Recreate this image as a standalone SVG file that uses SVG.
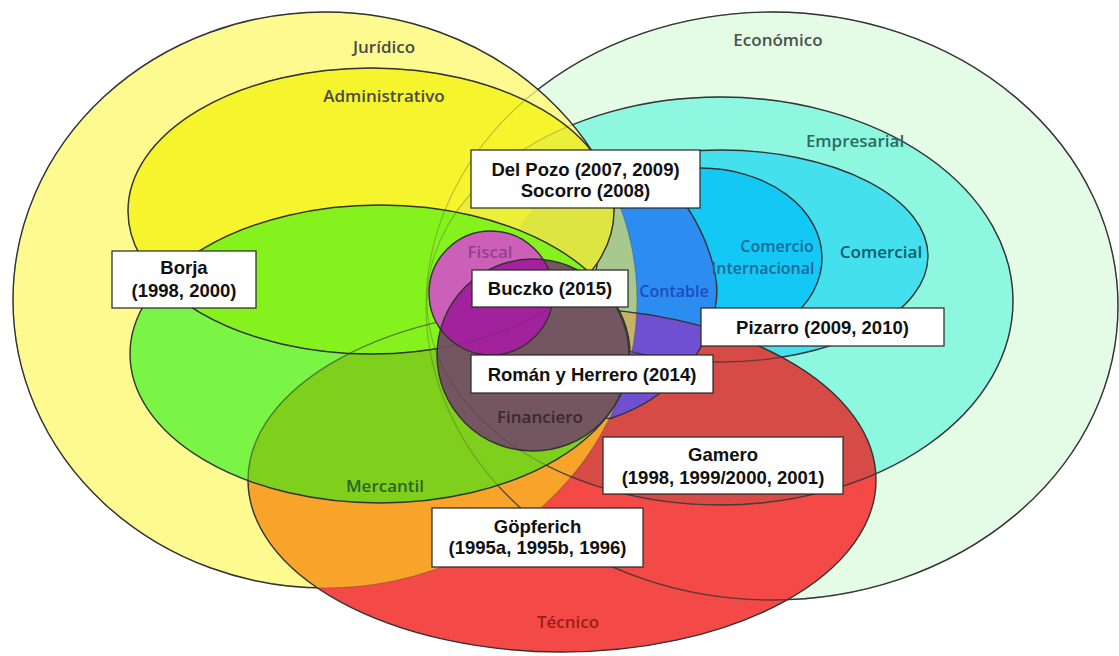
<svg xmlns="http://www.w3.org/2000/svg" xmlns:xlink="http://www.w3.org/1999/xlink" width="1119" height="656" viewBox="0 0 1119 656">
<style>
  .ol{fill:none;stroke:#333;stroke-width:1.4}
  .ghost{fill:none;stroke:#383838;stroke-width:1.1;opacity:0.3}
  .lbl{font-family:"Open Sans","Liberation Sans",sans-serif;font-size:17px;font-weight:600;text-anchor:middle}
  .box rect{fill:#fff;stroke:#262626;stroke-width:1.2}
  .box text{font-family:"Liberation Sans",Arial,sans-serif;font-weight:bold;font-size:18.5px;fill:#111;text-anchor:middle}
</style>
<defs>
  <ellipse id="sJ" cx="325" cy="300" rx="312" ry="288"/>
  <ellipse id="sE" cx="772" cy="306" rx="346" ry="294"/>
  <ellipse id="sA" cx="371" cy="211" rx="243" ry="143"/>
  <ellipse id="sG" cx="380" cy="354" rx="250" ry="149"/>
  <ellipse id="sT" cx="562" cy="480" rx="314" ry="172"/>
  <ellipse id="sM" cx="720" cy="301" rx="293" ry="204"/>
  <ellipse id="sC" cx="720" cy="256" rx="208" ry="106"/>
  <ellipse id="sI" cx="700" cy="258" rx="122" ry="90"/>
  <path id="sK" d="M655,178 C680,184 715,245 717,290 C716,340 680,395 612,418 C595,424 589,380 591,330 C593,262 606,180 655,178 Z"/>
  <circle id="sF" cx="491" cy="293" r="62"/>
  <circle id="sN" cx="533" cy="355" r="96"/>
  <clipPath id="cJ"><use xlink:href="#sJ"/></clipPath>
  <clipPath id="cA"><use xlink:href="#sA"/></clipPath>
  <clipPath id="cG"><use xlink:href="#sG"/></clipPath>
  <clipPath id="cT"><use xlink:href="#sT"/></clipPath>
  <clipPath id="cM"><use xlink:href="#sM"/></clipPath>
  <clipPath id="cC"><use xlink:href="#sC"/></clipPath>
  <clipPath id="cK"><use xlink:href="#sK"/></clipPath>
  <clipPath id="cF"><use xlink:href="#sF"/></clipPath>
</defs>
<rect width="1119" height="656" fill="#fff"/>

<!-- economic side -->
<g id="economico"><use xlink:href="#sE" fill="#e4fbe6"/><use xlink:href="#sE" class="ol"/></g>
<g id="empresarial"><use xlink:href="#sM" fill="#8ef7e0"/><use xlink:href="#sM" class="ol"/></g>
<g id="comercial"><use xlink:href="#sC" fill="#45e0ee"/><use xlink:href="#sC" class="ol"/></g>
<g id="comercio-internacional"><use xlink:href="#sI" fill="#14c8f6"/><use xlink:href="#sI" class="ol"/></g>

<!-- legal side -->
<g id="juridico"><use xlink:href="#sJ" fill="#fdfa8f"/><use xlink:href="#sJ" class="ol"/></g>

<g id="contable">
  <use xlink:href="#sK" fill="#2c8cf0"/>
  <use xlink:href="#sK" clip-path="url(#cJ)" fill="#a8c88e"/>
  <use xlink:href="#sK" class="ol"/>
</g>

<g id="administrativo">
  <use xlink:href="#sA" fill="#f6f42c"/>
  <use xlink:href="#sA" clip-path="url(#cM)" fill="#ebef38"/>
  <use xlink:href="#sA" clip-path="url(#cC)" fill="#dde641"/>
  <use xlink:href="#sA" class="ol"/>
</g>

<g id="tecnico">
  <use xlink:href="#sT" fill="#f44a47"/>
  <use xlink:href="#sT" clip-path="url(#cM)" fill="#d74b46"/>
  <use xlink:href="#sT" clip-path="url(#cJ)" fill="#f8a42a"/>
  <use xlink:href="#sT" clip-path="url(#cK)" fill="#6f50d0"/>
  <g clip-path="url(#cJ)"><use xlink:href="#sT" clip-path="url(#cK)" fill="#c6b264"/></g>
  <use xlink:href="#sT" class="ol"/>
  <g clip-path="url(#cT)">
    <use xlink:href="#sK" class="ol"/>
    <use xlink:href="#sM" class="ol" opacity="0.8"/>
    <use xlink:href="#sE" class="ol" opacity="0.7"/>
    <use xlink:href="#sC" class="ol" opacity="0.7"/>
  </g>
</g>

<g id="mercantil">
  <use xlink:href="#sG" fill="#7af545"/>
  <use xlink:href="#sG" clip-path="url(#cT)" fill="#7ed01d"/>
  <use xlink:href="#sG" clip-path="url(#cA)" fill="#85f21e"/>
  <use xlink:href="#sG" class="ol"/>
  <g clip-path="url(#cG)">
    <use xlink:href="#sA" class="ol"/>
    <use xlink:href="#sT" class="ol" opacity="0.6"/>
  </g>
</g>

<g id="financiero"><use xlink:href="#sN" fill="#745660"/><use xlink:href="#sN" class="ol"/></g>
<g id="fiscal">
  <use xlink:href="#sF" fill="#cc60b8"/>
  <use xlink:href="#sN" clip-path="url(#cF)" fill="#a2229e"/>
  <use xlink:href="#sF" class="ol"/>
  <use xlink:href="#sN" clip-path="url(#cF)" class="ol"/>
</g>

<!-- faint edges seen through the overlapping fields -->
<g id="edges">
  <use xlink:href="#sE" class="ghost"/>
  <use xlink:href="#sM" class="ghost"/>
  <use xlink:href="#sJ" class="ghost" opacity="0.5"/>
  <use xlink:href="#sA" class="ghost" opacity="0.2"/>
</g>

<g id="labels" class="lbl">
  <text x="384" y="53" fill="#4a4a4a">Jurídico</text>
  <text x="384" y="102" fill="#4a4a4a">Administrativo</text>
  <text x="778" y="46" fill="#4a524e">Económico</text>
  <text x="855" y="147" fill="#2a6c60">Empresarial</text>
  <text x="777" y="252" fill="#1a6a98" font-size="16">Comercio</text>
  <text x="763" y="274" fill="#1a6a98" font-size="16">Internacional</text>
  <text x="881" y="258" fill="#0e5c6c">Comercial</text>
  <text x="674" y="297" fill="#1c4cbe" font-size="16">Contable</text>
  <text x="490" y="258" fill="#93408c">Fiscal</text>
  <text x="540" y="423" fill="#3a2830">Financiero</text>
  <text x="385" y="492" fill="#2a6624">Mercantil</text>
  <text x="568" y="628" fill="#9c1c1c">Técnico</text>
</g>

<g id="borja" class="box">
  <rect x="112" y="251" width="144" height="57"/>
  <text x="184" y="274">Borja</text>
  <text x="184" y="297">(1998, 2000)</text>
</g>
<g id="delpozo" class="box">
  <rect x="471" y="150" width="229" height="58"/>
  <text x="585.5" y="176">Del Pozo (2007, 2009)</text>
  <text x="585.5" y="197">Socorro (2008)</text>
</g>
<g id="buczko" class="box">
  <rect x="472" y="270" width="156" height="37"/>
  <text x="550" y="295">Buczko (2015)</text>
</g>
<g id="pizarro" class="box">
  <rect x="701" y="308" width="243" height="38"/>
  <text x="822.5" y="334">Pizarro (2009, 2010)</text>
</g>
<g id="roman" class="box">
  <rect x="471" y="355" width="242" height="38"/>
  <text x="592" y="381">Román y Herrero (2014)</text>
</g>
<g id="gamero" class="box">
  <rect x="603" y="437" width="240" height="57"/>
  <text x="723" y="461">Gamero</text>
  <text x="723" y="484">(1998, 1999/2000, 2001)</text>
</g>
<g id="gopferich" class="box">
  <rect x="432" y="508" width="211" height="59"/>
  <text x="537.5" y="533">Göpferich</text>
  <text x="537.5" y="554">(1995a, 1995b, 1996)</text>
</g>
</svg>
